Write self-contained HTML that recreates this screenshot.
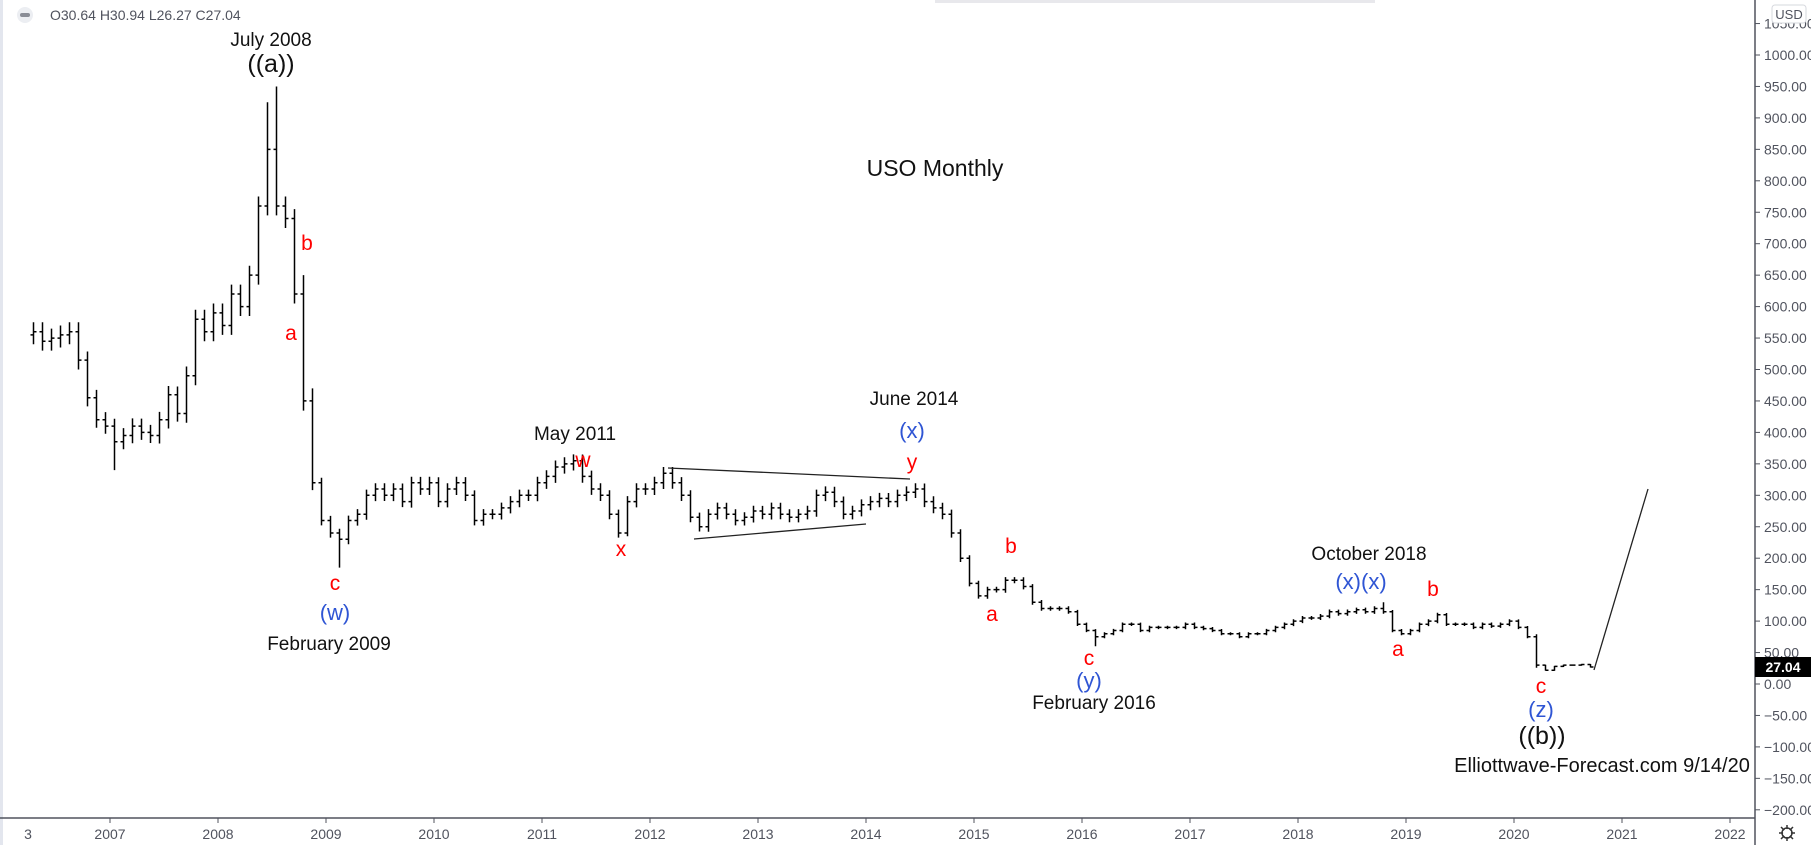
<!DOCTYPE html>
<html><head><meta charset="utf-8">
<style>
html,body{margin:0;padding:0;background:#fff;}
body{width:1811px;height:845px;overflow:hidden;position:relative;font-family:"Liberation Sans","DejaVu Sans",sans-serif;}
svg{position:absolute;left:0;top:0;}
</style></head><body>
<svg id="c" width="1811" height="845" xmlns="http://www.w3.org/2000/svg">
<rect x="0" y="0" width="3" height="845" fill="#e3e6ee"/>
<rect x="935" y="0" width="440" height="3" fill="#e8e8ec"/>
<line x1="1755" y1="0" x2="1755" y2="845" stroke="#50535e" stroke-width="1.5"/>
<line x1="0" y1="818" x2="1755" y2="818" stroke="#50535e" stroke-width="1.5"/>
<g id="yax" font-size="14" fill="#50535e" font-family="Liberation Sans, sans-serif"></g>
<g id="xax" font-size="14" fill="#50535e" font-family="Liberation Sans, sans-serif" text-anchor="middle">
<text x="28" y="839">3</text>
</g>
<g id="bars" stroke="#000" stroke-width="1.5" fill="none"></g>
<line x1="668" y1="468" x2="910" y2="479" stroke="#222" stroke-width="1.3"/>
<line x1="694" y1="539" x2="866" y2="524" stroke="#222" stroke-width="1.3"/>
<line x1="1594" y1="670" x2="1648" y2="489" stroke="#222" stroke-width="1.3"/>
<circle cx="25" cy="15" r="8" fill="#eceef2"/>
<rect x="20" y="13" width="10" height="4" rx="2" fill="#8a8d96"/>
<text x="50" y="20" font-size="14" fill="#50535e">O30.64 H30.94 L26.27 C27.04</text>
<rect x="1772" y="5" width="34" height="18" rx="3" fill="#fff" stroke="#d6d8de"/>
<text x="1789" y="19" font-size="13" fill="#50535e" text-anchor="middle">USD</text>
<rect x="1755" y="657" width="56" height="20" fill="#000"/>
<text x="1783" y="672" font-size="14" font-weight="bold" fill="#fff" text-anchor="middle">27.04</text>
<circle cx="1787" cy="833" r="5" fill="none" stroke="#333" stroke-width="1.5"/>
<g stroke="#333" stroke-width="1.5"><line x1="1787" y1="825" x2="1787" y2="841"/><line x1="1779" y1="833" x2="1795" y2="833"/><line x1="1781" y1="827" x2="1793" y2="839"/><line x1="1793" y1="827" x2="1781" y2="839"/></g>
<circle cx="1787" cy="833" r="4" fill="#fff"/>
<g text-anchor="middle" font-family="Liberation Sans, DejaVu Sans, sans-serif">
<text x="271" y="46" font-size="19" fill="#111">July 2008</text>
<text x="271" y="72" font-size="25" fill="#111">((a))</text>
<text x="307" y="250" font-size="21" fill="#f00">b</text>
<text x="291" y="340" font-size="21" fill="#f00">a</text>
<text x="335" y="590" font-size="21" fill="#f00">c</text>
<text x="335" y="620" font-size="22" fill="#2f55d4">(w)</text>
<text x="329" y="650" font-size="19" fill="#111">February 2009</text>
<text x="935" y="176" font-size="23" fill="#111">USO Monthly</text>
<text x="575" y="440" font-size="19" fill="#111">May 2011</text>
<text x="583" y="467" font-size="21" fill="#f00">w</text>
<text x="621" y="556" font-size="21" fill="#f00">x</text>
<text x="914" y="405" font-size="19" fill="#111">June 2014</text>
<text x="912" y="438" font-size="22" fill="#2f55d4">(x)</text>
<text x="912" y="469" font-size="21" fill="#f00">y</text>
<text x="1011" y="553" font-size="21" fill="#f00">b</text>
<text x="992" y="621" font-size="21" fill="#f00">a</text>
<text x="1089" y="665" font-size="21" fill="#f00">c</text>
<text x="1089" y="688" font-size="22" fill="#2f55d4">(y)</text>
<text x="1094" y="709" font-size="19" fill="#111">February 2016</text>
<text x="1369" y="560" font-size="19" fill="#111">October 2018</text>
<text x="1361" y="589" font-size="22" fill="#2f55d4">(x)(x)</text>
<text x="1433" y="596" font-size="21" fill="#f00">b</text>
<text x="1398" y="656" font-size="21" fill="#f00">a</text>
<text x="1541" y="693" font-size="21" fill="#f00">c</text>
<text x="1541" y="717" font-size="22" fill="#2f55d4">(z)</text>
<text x="1542" y="744" font-size="25" fill="#111">((b))</text>
<text x="1602" y="772" font-size="20" fill="#111">Elliottwave-Forecast.com 9/14/20</text>
</g>
</svg>
<script>
(function(){
var NS="http://www.w3.org/2000/svg";
function Y(p){return 684-p*0.629;}
function X(t){return 110+(t-2007)*108;}
var ya=document.getElementById('yax');
for(var p=1050;p>=-200;p-=50){
  var y=Y(p);
  var l=document.createElementNS(NS,'line');l.setAttribute('x1',1755);l.setAttribute('x2',1760);l.setAttribute('y1',y);l.setAttribute('y2',y);l.setAttribute('stroke','#50535e');ya.appendChild(l);
  var t=document.createElementNS(NS,'text');t.setAttribute('x',1764);t.setAttribute('y',y+5);
  t.textContent=(p<0?'\u2212'+(-p).toFixed(2):p.toFixed(2));ya.appendChild(t);
}
var xa=document.getElementById('xax');
for(var yr=2007;yr<=2022;yr++){
  var x=X(yr);
  var l=document.createElementNS(NS,'line');l.setAttribute('x1',x);l.setAttribute('x2',x);l.setAttribute('y1',818);l.setAttribute('y2',823);l.setAttribute('stroke','#50535e');xa.appendChild(l);
  var t=document.createElementNS(NS,'text');t.setAttribute('x',x);t.setAttribute('y',839);t.textContent=yr;xa.appendChild(t);
}
var closes=[
[2006,3,[560,545,550,555,560,515,455,420,410]],
[2007,0,[385,395,410,400,395,420,460,430,490,580,560,590]],
[2008,0,[570,620,600,650,760,850,760,740,620,450,320,260]],
[2009,0,[240,230,260,270,300,310,300,310,290,320,310,320]],
[2010,0,[290,310,320,300,260,270,270,280,290,300,300,320]],
[2011,0,[330,345,350,355,330,310,300,270,240,290,310,310]],
[2012,0,[320,335,320,300,265,250,270,280,270,260,265,275]],
[2013,0,[270,280,270,265,270,275,300,305,290,270,275,285]],
[2014,0,[290,295,290,300,305,310,290,280,270,240,200,160]],
[2015,0,[140,150,150,165,165,155,130,120,120,120,115,95]],
[2016,0,[85,75,80,85,95,95,85,90,90,90,90,95]],
[2017,0,[90,88,85,80,80,75,80,80,85,90,95,100]],
[2018,0,[105,105,108,115,112,115,118,115,120,115,85,80]],
[2019,0,[85,95,100,110,95,95,95,90,95,92,95,100]],
[2020,0,[90,75,30,22,28,30,30,31,27]]];
var special={"2008-5":[925,null],"2008-6":[950,null],"2009-1":[null,185],"2011-3":[365,null],"2011-9":[null,235],"2016-1":[null,60],"2012-2":[345,null],"2008-10":[470,null],"2008-9":[650,null],"2007-0":[null,340],"2018-9":[130,null]};
var g=document.getElementById('bars');var prev=555;var d='';
closes.forEach(function(r){var yr=r[0],m0=r[1];r[2].forEach(function(c,i){
  var m=m0+i;var x=X(yr+m/12+1/24);var o=prev;
  var amp=Math.max(Math.abs(c-o)*0.15,Math.min(c*0.05,25));
  var h=Math.max(o,c)+amp*0.6,l=Math.min(o,c)-amp*0.6;
  var s=special[yr+'-'+m];if(s){if(s[0]!==null)h=s[0];if(s[1]!==null)l=s[1];}
  d+='M'+x.toFixed(1)+' '+Y(h).toFixed(1)+'V'+Y(l).toFixed(1)+'M'+(x-3).toFixed(1)+' '+Y(o).toFixed(1)+'H'+x.toFixed(1)+'M'+x.toFixed(1)+' '+Y(c).toFixed(1)+'H'+(x+3).toFixed(1);
  prev=c;});});
var p=document.createElementNS(NS,'path');p.setAttribute('d',d);g.appendChild(p);
})();
</script>
</body></html>
